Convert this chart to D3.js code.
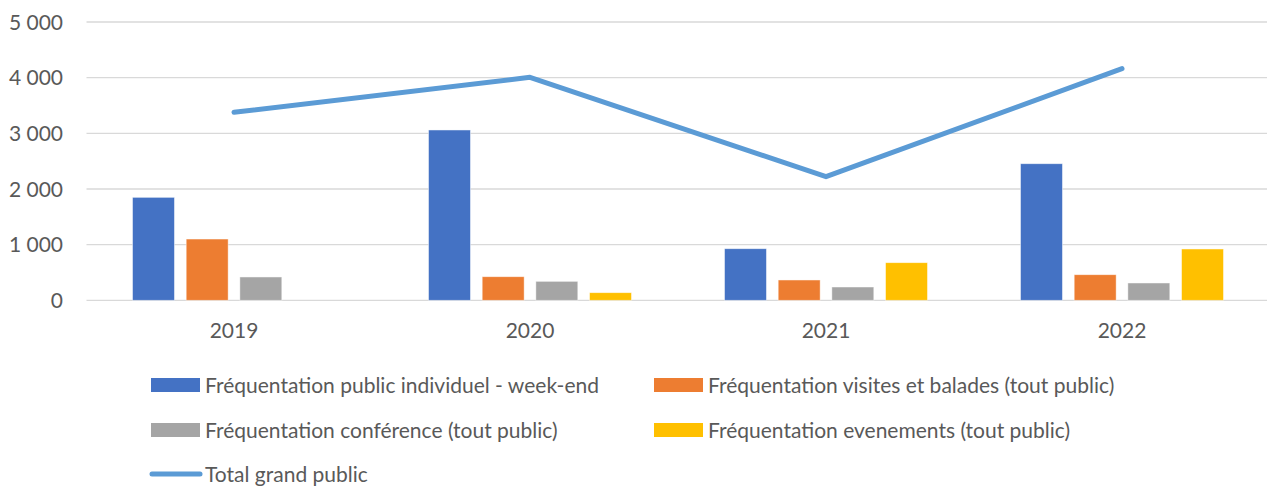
<!DOCTYPE html>
<html>
<head>
<meta charset="utf-8">
<script src="https://cdn.jsdelivr.net/npm/d3@7"></script>
<style>
  body { margin: 0; background: #fff; }
  text { font-family: Lato, "Open Sans", sans-serif; fill: #595959; }
</style>
</head>
<body>
<div id="chart"></div>
<script>
// data
var years = ["2019", "2020", "2021", "2022"];
var seriesNames = [
  "Fréquentation public individuel - week-end",
  "Fréquentation visites et balades (tout public)",
  "Fréquentation conférence (tout public)",
  "Fréquentation evenements (tout public)"
];
var weekend    = [1850, 3060, 927, 2454];
var visites    = [1101, 424, 365, 460];
var conference = [419, 341, 239, 311];
var evenements = [0, 137, 676, 922];
var totalName = "Total grand public";
var total = [3378, 4006, 2221, 4161];
var yTicks = [0, 1000, 2000, 3000, 4000, 5000];

var colors = ["#4472C4", "#ED7D31", "#A5A5A5", "#FFC000"];
var lineColor = "#5B9BD5";

var seriesValues = [weekend, visites, conference, evenements];

// set the dimensions of the svg
var width = 1267, height = 486;

var svg = d3.select("#chart")
  .append("svg")
    .attr("width", width)
    .attr("height", height);

// scales
var x = d3.scaleBand()
  .domain(years)
  .range([86, 1270]);

var xInner = d3.scaleBand()
  .domain(d3.range(seriesNames.length))
  .range([-101.5, 101.5])
  .paddingInner(0.218);

var y = d3.scaleLinear()
  .domain([0, 5000])
  .range([300.3, 22]);

// gridlines
svg.append("g")
  .selectAll("line")
  .data(yTicks)
  .enter()
  .append("line")
    .attr("x1", 86.5)
    .attr("x2", width)
    .attr("y1", function(d) { return y(d); })
    .attr("y2", function(d) { return y(d); })
    .attr("stroke", "#d9d9d9")
    .attr("stroke-width", 1.3);

// y axis labels
var fmt = function(d) { return d3.format(",")(d).replace(/,/g, " "); };
svg.append("g")
  .selectAll("text")
  .data(yTicks)
  .enter()
  .append("text")
    .attr("x", 63)
    .attr("y", function(d) { return y(d); })
    .attr("dy", "0.36em")
    .attr("text-anchor", "end")
    .style("font-size", "21px")
    .text(fmt);

// x axis labels
svg.append("g")
  .selectAll("text")
  .data(years)
  .enter()
  .append("text")
    .attr("x", function(d) { return x(d) + x.bandwidth() / 2; })
    .attr("y", 338)
    .attr("text-anchor", "middle")
    .style("font-size", "21px")
    .text(function(d) { return d; });

// bars
var rows = [];
seriesValues.forEach(function(vals, s) {
  vals.forEach(function(v, i) {
    rows.push({ year: years[i], s: s, value: v });
  });
});

svg.append("g")
  .selectAll("rect")
  .data(rows.filter(function(d) { return d.value > 0; }))
  .enter()
  .append("rect")
    .attr("x", function(d) { return x(d.year) + x.bandwidth() / 2 + xInner(d.s); })
    .attr("y", function(d) { return y(d.value); })
    .attr("width", xInner.bandwidth())
    .attr("height", function(d) { return y(0) - y(d.value); })
    .attr("fill", function(d) { return colors[d.s]; })
    .attr("stroke", "#ffffff")
    .attr("stroke-opacity", 0.6)
    .attr("stroke-width", 0.8);

// total line
var line = d3.line()
  .x(function(d, i) { return x(years[i]) + x.bandwidth() / 2; })
  .y(function(d) { return y(d); });

svg.append("path")
  .datum(total)
  .attr("d", line)
  .attr("fill", "none")
  .attr("stroke", lineColor)
  .attr("stroke-width", 5)
  .attr("stroke-linecap", "round")
  .attr("stroke-linejoin", "round");

// legend
var legendPos = [
  { x: 151, y: 385 }, { x: 654, y: 385 },
  { x: 151, y: 430 }, { x: 654, y: 430 }
];

var legend = svg.append("g");
seriesNames.forEach(function(name, i) {
  var g = legend.append("g")
    .attr("transform", "translate(" + legendPos[i].x + "," + legendPos[i].y + ")");
  g.append("rect")
    .attr("x", 0).attr("y", -7)
    .attr("width", 49).attr("height", 14)
    .attr("fill", colors[i]);
  g.append("text")
    .attr("x", 54).attr("dy", "0.36em")
    .style("font-size", "21px")
    .text(name);
});

var lg = legend.append("g").attr("transform", "translate(151,474)");
lg.append("line")
  .attr("x1", 1).attr("x2", 49)
  .attr("stroke", lineColor)
  .attr("stroke-width", 5)
  .attr("stroke-linecap", "round");
lg.append("text")
  .attr("x", 54).attr("dy", "0.36em")
  .style("font-size", "21px")
  .text(totalName);
</script>
</body>
</html>
